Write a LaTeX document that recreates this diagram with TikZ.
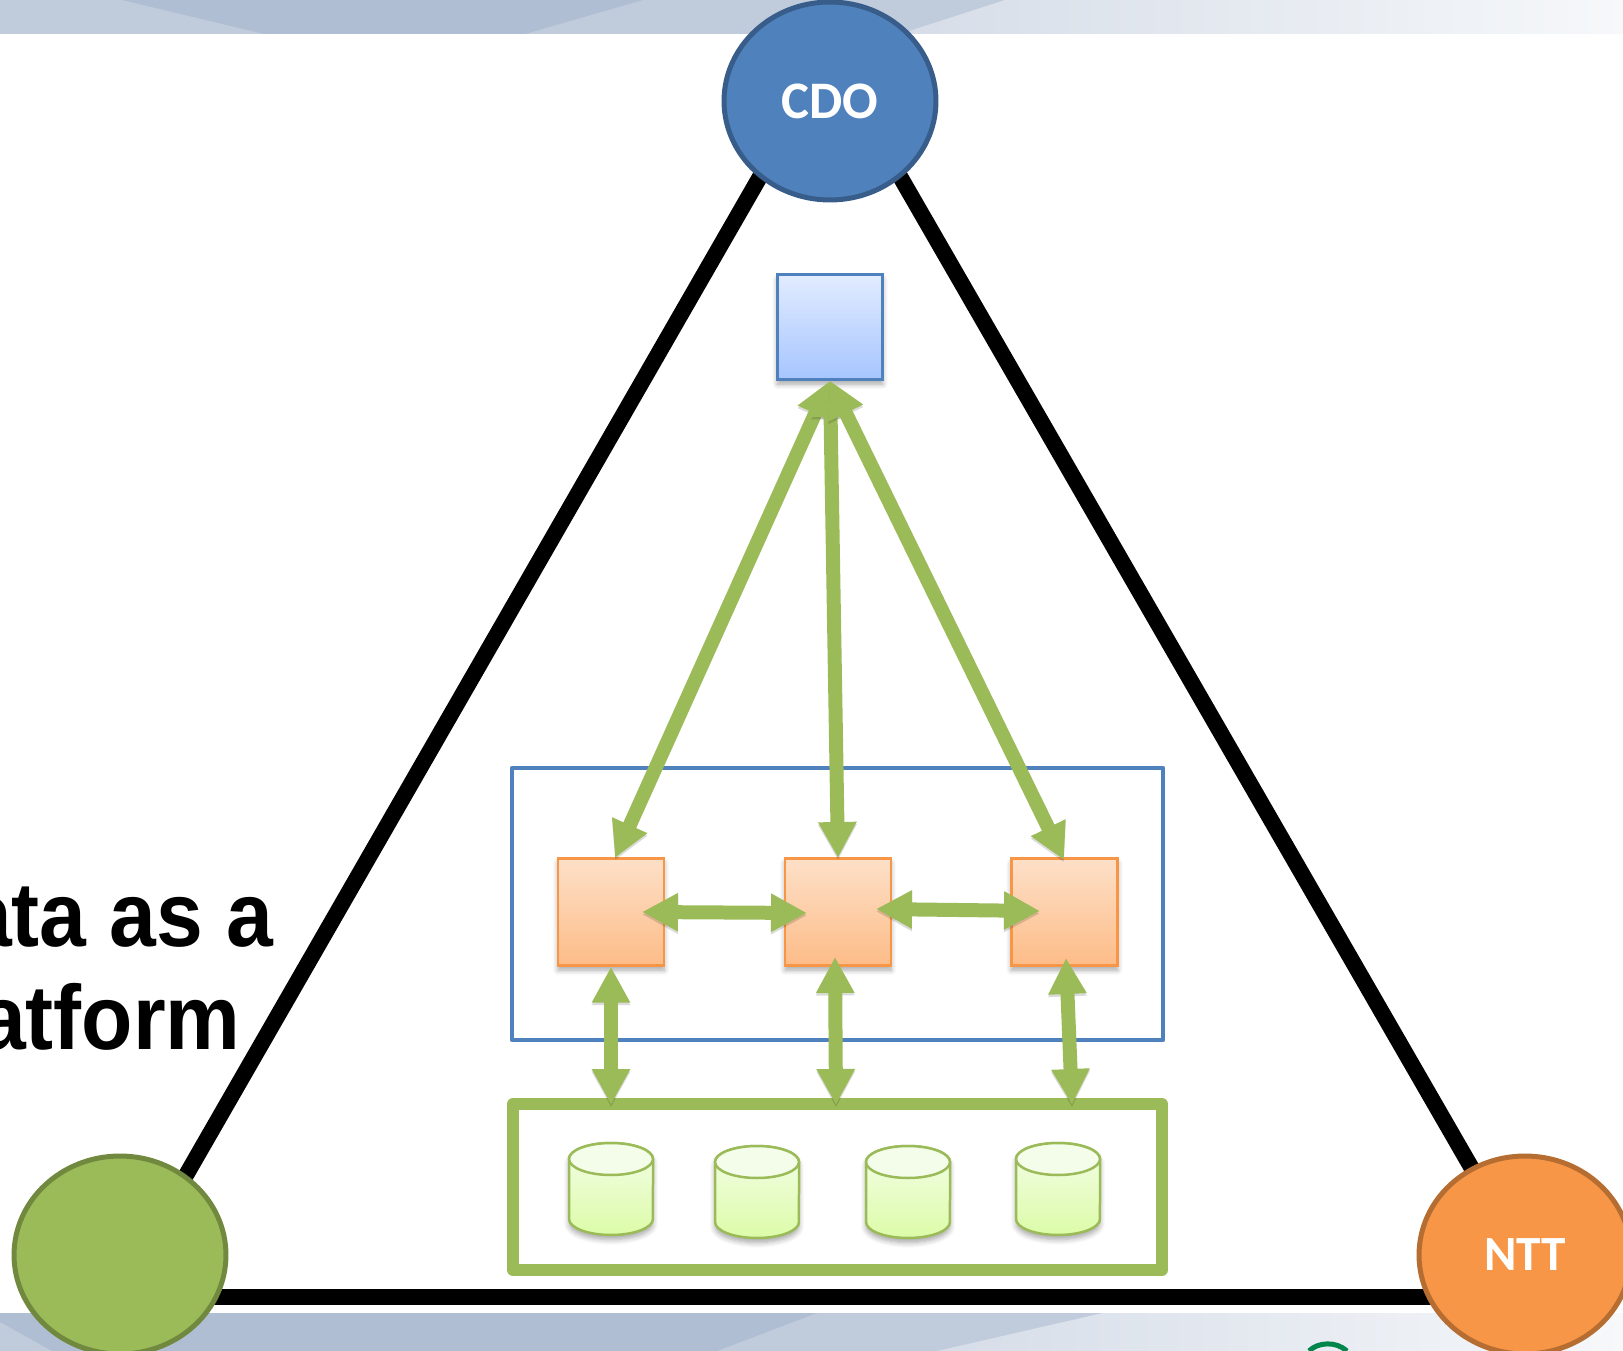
\documentclass[tikz,border=0pt]{standalone}
\usepackage{fontspec}
\setmainfont{Liberation Sans}
\newfontfamily\labelfont{Carlito}
\newfontfamily\sidefont[FakeStretch=0.92]{Liberation Sans Bold}
\usepackage{tikz}
\usetikzlibrary{calc,positioning,shapes.geometric,arrows.meta,shadows.blur}

\definecolor{bandlight}{HTML}{C0CCDC}
\definecolor{banddark}{HTML}{AFBED2}
\definecolor{bandpale}{HTML}{D6DDE8}
\definecolor{bandend}{HTML}{F6F8FA}
\definecolor{cdoblue}{HTML}{4F81BD}
\definecolor{cdoedge}{HTML}{385D8A}
\definecolor{leafgreen}{HTML}{9BBB59}
\definecolor{leafedge}{HTML}{71893F}
\definecolor{nttorange}{HTML}{F79646}
\definecolor{nttedge}{HTML}{B66D31}
\definecolor{hubtop}{HTML}{E2ECFF}
\definecolor{hubbottom}{HTML}{A6C5FF}
\definecolor{boxtop}{HTML}{FDE0C8}
\definecolor{boxbottom}{HTML}{FDBC88}
\definecolor{dbtop}{HTML}{F4FDE9}
\definecolor{dbbottom}{HTML}{DCFCA8}
\definecolor{logogreen}{HTML}{00854A}

\tikzset{
  softshadow/.style={blur shadow={shadow xshift=0pt,shadow yshift=-2.6pt,shadow blur steps=6,shadow blur radius=3pt,shadow opacity=35}},
  party/.style={ellipse,minimum width=4.24cm,minimum height=3.96cm,inner sep=0,line width=.1cm,
    text=white,font=\labelfont\bfseries\fontsize{30}{30}\selectfont},
  bluebox/.style={rectangle,minimum size=2.1cm,inner sep=0,draw=cdoblue,line width=.05cm,
    top color=hubtop,bottom color=hubbottom,softshadow},
  orangebox/.style={rectangle,minimum width=2.12cm,minimum height=2.14cm,inner sep=0,draw=nttorange,line width=.05cm,
    top color=boxtop,bottom color=boxbottom,softshadow},
  flowarrow/.style={line width=.28cm,draw=leafgreen,
    {Triangle[length=.72cm,width=.72cm]}-{Triangle[length=.72cm,width=.72cm]},
    preaction={draw=black,draw opacity=.14,transform canvas={yshift=-1.4pt}}},
  dbbody/.style={draw=leafgreen,line width=.05cm,top color=dbtop,bottom color=dbbottom,softshadow},
  dbcap/.style={draw=leafgreen,line width=.05cm,fill=dbtop},
  sidetext/.style={anchor=base east,inner sep=0,font=\sidefont\fontsize{52}{52}\selectfont}
}

\begin{document}
\begin{tikzpicture}[x=0.02cm,y=-0.02cm]
\useasboundingbox (0,0) rectangle (1623,1351);
\clip (0,0) rectangle (1623,1351);

\coordinate (T) at (830,55);
\coordinate (L) at (116,1297);
\coordinate (R) at (1546,1297);

\coordinate (PA) at (615,858);
\coordinate (PB) at (838,858);
\coordinate (PC) at (1064,860);

% header and footer bands
\fill[bandlight] (0,0) rectangle (1005,34);
\fill[banddark] (122,0)--(264,34)--(525,34)--(643,0)--cycle;
\shade[left color=bandpale,right color=bandend] (1005,0)--(900,34)--(1623,34)--(1623,0)--cycle;
\fill[bandlight] (0,1313) rectangle (1103,1351);
\fill[banddark] (0,1313)--(817,1313)--(717,1351)--(52,1351)--(0,1322)--cycle;
\shade[left color=bandpale,right color=bandend] (1103,1313)--(937,1351)--(1623,1351)--(1623,1313)--cycle;
\draw[color=logogreen,line width=.1cm] (1309,1351) .. controls (1318,1342) and (1336,1341) .. (1347,1351);

\node[sidetext] (DATA) at (274,946) {Data as a};
\node[sidetext] (PLATFORM) at (241,1049) {Platform};

\draw[line width=.32cm] (T) -- (L);
\draw[line width=.32cm] (T) -- (R);
\draw[line width=.32cm] (L) -- (R);

\node[party,draw=cdoedge,fill=cdoblue] (CDO) at (830,101) {\raisebox{-1.5pt}{CDO}};
\node[party,draw=leafedge,fill=leafgreen] (DS) at (120,1255) {};
\node[party,draw=nttedge,fill=nttorange] (NTT) at (1525,1255) {\raisebox{-2.6pt}{\fontsize{28}{28}\selectfont NTT}};

\draw[draw=cdoblue,line width=.09cm,line join=round] (512,768) rectangle (1163,1040);
\draw[draw=leafgreen,line width=.24cm,line join=round] (513,1104) rectangle (1162,1270);

\node[bluebox] (HUB) at (830,327) {};
\node[orangebox] (OA) at (611,912) {};
\node[orangebox] (OB) at (838,912) {};
\node[orangebox] (OC) at (1064.5,912) {};

\foreach \x/\y in {611/1143,757/1146,908/1146,1058/1143}{
  \draw[dbbody] (\x-42,\y+16) -- (\x-42,\y+76) arc[start angle=180,end angle=360,x radius=.84cm,y radius=.32cm] -- (\x+42,\y+16) arc[start angle=0,end angle=180,x radius=.84cm,y radius=.32cm] -- cycle;
  \draw[dbcap] (\x,\y+16) ellipse[x radius=.84cm,y radius=.32cm];
}

\draw[flowarrow] (HUB.south) -- (PA);
\draw[flowarrow] (HUB.south) -- (PB);
\draw[flowarrow] (HUB.south) -- (PC);

\coordinate (HA) at (642,912);
\coordinate (HB) at (807,913);
\coordinate (HC) at (876,909);
\coordinate (HD) at (1040,911);
\draw[flowarrow] (HA) -- (HB);
\draw[flowarrow] (HC) -- (HD);

\coordinate (VA) at (611,1105);
\coordinate (VB) at (835,957);
\coordinate (VC) at (836,1105);
\coordinate (VD) at (1066,958);
\coordinate (VE) at (1072,1105);
\draw[flowarrow] (OA.south) -- (VA);
\draw[flowarrow] (VB) -- (VC);
\draw[flowarrow] (VD) -- (VE);
\end{tikzpicture}
\end{document}
